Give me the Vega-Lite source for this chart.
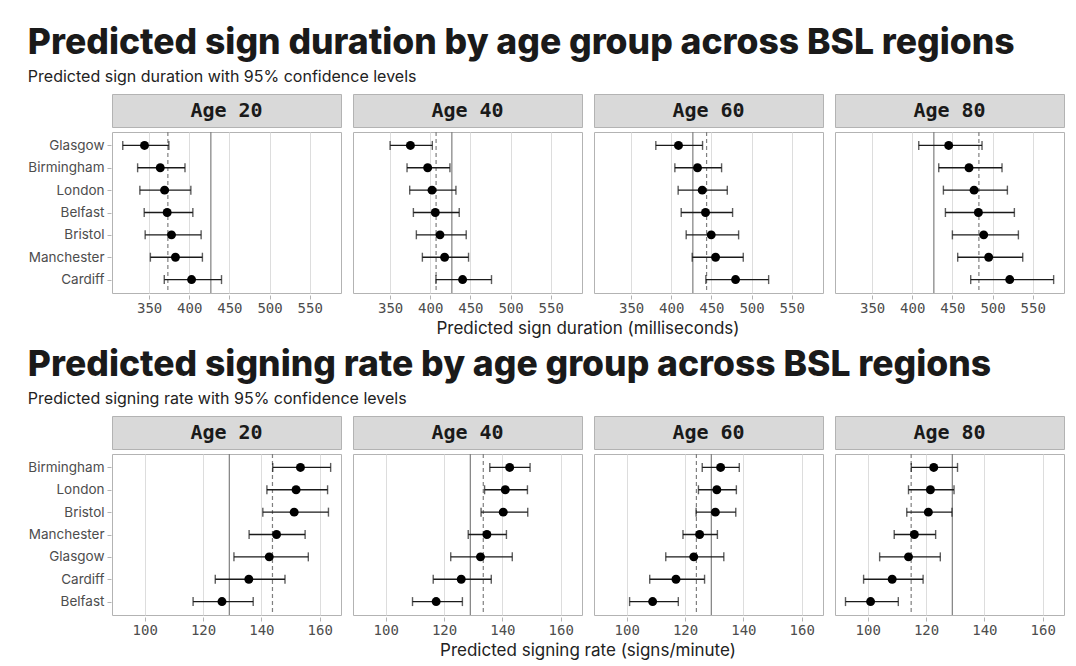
{
  "$schema": "https://vega.github.io/schema/vega-lite/v6.json",
  "background": "white",
  "padding": {"left": 27, "top": 25, "right": 5, "bottom": 5},
  "datasets": {
    "pred": [
      {"measure": "duration", "age": "Age 20", "region": "Glasgow", "est": 344.3, "lo": 317.2, "hi": 374.6},
      {"measure": "duration", "age": "Age 20", "region": "Birmingham", "est": 363.9, "lo": 335.7, "hi": 394.7},
      {"measure": "duration", "age": "Age 20", "region": "London", "est": 369.3, "lo": 338.5, "hi": 402.0},
      {"measure": "duration", "age": "Age 20", "region": "Belfast", "est": 372.5, "lo": 343.9, "hi": 404.5},
      {"measure": "duration", "age": "Age 20", "region": "Bristol", "est": 377.9, "lo": 345.1, "hi": 414.8},
      {"measure": "duration", "age": "Age 20", "region": "Manchester", "est": 382.8, "lo": 351.6, "hi": 416.4},
      {"measure": "duration", "age": "Age 20", "region": "Cardiff", "est": 402.9, "lo": 368.9, "hi": 440.2},
      {"measure": "duration", "age": "Age 40", "region": "Glasgow", "est": 375.3, "lo": 350.0, "hi": 402.6},
      {"measure": "duration", "age": "Age 40", "region": "Birmingham", "est": 396.8, "lo": 371.1, "hi": 424.5},
      {"measure": "duration", "age": "Age 40", "region": "London", "est": 402.2, "lo": 374.4, "hi": 432.0},
      {"measure": "duration", "age": "Age 40", "region": "Belfast", "est": 406.3, "lo": 379.0, "hi": 436.1},
      {"measure": "duration", "age": "Age 40", "region": "Bristol", "est": 412.1, "lo": 382.7, "hi": 444.8},
      {"measure": "duration", "age": "Age 40", "region": "Manchester", "est": 417.9, "lo": 390.2, "hi": 447.7},
      {"measure": "duration", "age": "Age 40", "region": "Cardiff", "est": 440.3, "lo": 407.1, "hi": 476.3},
      {"measure": "duration", "age": "Age 60", "region": "Glasgow", "est": 409.0, "lo": 380.8, "hi": 439.0},
      {"measure": "duration", "age": "Age 60", "region": "Birmingham", "est": 432.7, "lo": 404.5, "hi": 462.7},
      {"measure": "duration", "age": "Age 60", "region": "London", "est": 438.6, "lo": 408.6, "hi": 469.8},
      {"measure": "duration", "age": "Age 60", "region": "Belfast", "est": 442.7, "lo": 412.4, "hi": 476.4},
      {"measure": "duration", "age": "Age 60", "region": "Bristol", "est": 449.8, "lo": 418.6, "hi": 483.9},
      {"measure": "duration", "age": "Age 60", "region": "Manchester", "est": 455.2, "lo": 426.1, "hi": 489.7},
      {"measure": "duration", "age": "Age 60", "region": "Cardiff", "est": 480.1, "lo": 443.1, "hi": 521.3},
      {"measure": "duration", "age": "Age 80", "region": "Glasgow", "est": 445.4, "lo": 408.1, "hi": 486.9},
      {"measure": "duration", "age": "Age 80", "region": "Birmingham", "est": 470.7, "lo": 433.0, "hi": 511.8},
      {"measure": "duration", "age": "Age 80", "region": "London", "est": 477.0, "lo": 438.8, "hi": 518.5},
      {"measure": "duration", "age": "Age 80", "region": "Belfast", "est": 482.4, "lo": 441.3, "hi": 527.2},
      {"measure": "duration", "age": "Age 80", "region": "Bristol", "est": 489.0, "lo": 450.0, "hi": 532.2},
      {"measure": "duration", "age": "Age 80", "region": "Manchester", "est": 495.2, "lo": 456.6, "hi": 537.6},
      {"measure": "duration", "age": "Age 80", "region": "Cardiff", "est": 521.4, "lo": 472.8, "hi": 576.1},
      {"measure": "rate", "age": "Age 20", "region": "Birmingham", "est": 153.4, "lo": 143.9, "hi": 163.75},
      {"measure": "rate", "age": "Age 20", "region": "London", "est": 151.9, "lo": 141.9, "hi": 162.7},
      {"measure": "rate", "age": "Age 20", "region": "Bristol", "est": 151.25, "lo": 140.5, "hi": 163.0},
      {"measure": "rate", "age": "Age 20", "region": "Manchester", "est": 145.2, "lo": 135.8, "hi": 155.0},
      {"measure": "rate", "age": "Age 20", "region": "Glasgow", "est": 142.7, "lo": 130.6, "hi": 156.1},
      {"measure": "rate", "age": "Age 20", "region": "Cardiff", "est": 135.7, "lo": 124.2, "hi": 148.1},
      {"measure": "rate", "age": "Age 20", "region": "Belfast", "est": 126.5, "lo": 116.6, "hi": 137.2},
      {"measure": "rate", "age": "Age 40", "region": "Birmingham", "est": 142.5, "lo": 135.7, "hi": 149.5},
      {"measure": "rate", "age": "Age 40", "region": "London", "est": 141.0, "lo": 133.9, "hi": 148.6},
      {"measure": "rate", "age": "Age 40", "region": "Bristol", "est": 140.3, "lo": 132.7, "hi": 148.7},
      {"measure": "rate", "age": "Age 40", "region": "Manchester", "est": 134.7, "lo": 128.3, "hi": 141.4},
      {"measure": "rate", "age": "Age 40", "region": "Glasgow", "est": 132.5, "lo": 122.3, "hi": 143.4},
      {"measure": "rate", "age": "Age 40", "region": "Cardiff", "est": 125.9, "lo": 116.3, "hi": 136.2},
      {"measure": "rate", "age": "Age 40", "region": "Belfast", "est": 117.3, "lo": 109.2, "hi": 126.3},
      {"measure": "rate", "age": "Age 60", "region": "Birmingham", "est": 132.2, "lo": 125.9, "hi": 138.6},
      {"measure": "rate", "age": "Age 60", "region": "London", "est": 130.9, "lo": 124.6, "hi": 137.6},
      {"measure": "rate", "age": "Age 60", "region": "Bristol", "est": 130.4, "lo": 123.8, "hi": 137.4},
      {"measure": "rate", "age": "Age 60", "region": "Manchester", "est": 125.0, "lo": 119.3, "hi": 131.1},
      {"measure": "rate", "age": "Age 60", "region": "Glasgow", "est": 123.0, "lo": 113.4, "hi": 133.3},
      {"measure": "rate", "age": "Age 60", "region": "Cardiff", "est": 116.9, "lo": 107.9, "hi": 126.7},
      {"measure": "rate", "age": "Age 60", "region": "Belfast", "est": 108.9, "lo": 101.0, "hi": 117.7},
      {"measure": "rate", "age": "Age 80", "region": "Birmingham", "est": 122.65, "lo": 114.95, "hi": 130.8},
      {"measure": "rate", "age": "Age 80", "region": "London", "est": 121.5, "lo": 114.0, "hi": 129.6},
      {"measure": "rate", "age": "Age 80", "region": "Bristol", "est": 120.8, "lo": 113.4, "hi": 128.9},
      {"measure": "rate", "age": "Age 80", "region": "Manchester", "est": 116.0, "lo": 109.1, "hi": 123.3},
      {"measure": "rate", "age": "Age 80", "region": "Glasgow", "est": 114.0, "lo": 104.1, "hi": 124.9},
      {"measure": "rate", "age": "Age 80", "region": "Cardiff", "est": 108.4, "lo": 98.6, "hi": 119.0},
      {"measure": "rate", "age": "Age 80", "region": "Belfast", "est": 101.0, "lo": 92.4, "hi": 110.5}
    ]
  },
  "vconcat": [
    {
      "title": {"text": "Predicted sign duration by age group across BSL regions", "subtitle": "Predicted sign duration with 95% confidence levels"},
      "spacing": 0,
      "resolve": {"scale": {"y": "independent", "x": "independent"}, "axis": {"y": "independent", "x": "independent"}},
      "vconcat": [
        {
          "data": {"name": "pred"},
          "transform": [{"filter": "datum.measure === 'duration'"}],
          "facet": {"column": {"field": "age", "type": "nominal", "header": null}},
          "spacing": 10,
          "spec": {
            "width": 229, "height": 33,
            "view": {"fill": "#D9D9D9", "stroke": "#B3B3B3"},
            "layer": [
              {"mark": {"type": "point", "opacity": 0},
               "encoding": {"y": {"field": "region", "type": "nominal", "sort": ["Glasgow", "Birmingham", "London", "Belfast", "Bristol", "Manchester", "Cardiff"], "scale": {"type": "point", "padding": 6},
                 "axis": {"title": null, "domain": false, "grid": false, "ticks": true, "tickOpacity": 0, "labelOpacity": 0, "labelOverlap": false}}}},
              {"transform": [{"aggregate": [{"op": "count", "as": "n"}], "groupby": ["age"]}],
               "mark": {"type": "text", "font": "DejaVu Sans Mono", "fontWeight": "bold", "fontSize": 20, "color": "#1A1A1A"},
               "encoding": {"text": {"field": "age", "type": "nominal"}}}
            ]
          }
        },
        {
          "data": {"name": "pred"},
          "transform": [{"filter": "datum.measure === 'duration'"}, {"joinaggregate": [{"op": "mean", "field": "est", "as": "grand"}]}],
          "facet": {"column": {"field": "age", "type": "nominal", "header": {"labelOrient": "bottom", "labelExpr": "''", "labelFontSize": 1, "labelPadding": 0, "title": "Predicted sign duration (milliseconds)", "titleOrient": "bottom"}}},
          "spacing": 10,
          "spec": {
            "width": 229, "height": 161,
            "layer": [
              {"mark": {"type": "rule", "color": "#7F7F7F", "strokeWidth": 1.2},
               "encoding": {"x": {"aggregate": "mean", "field": "grand", "type": "quantitative", "title": null}}},
              {"mark": {"type": "rule", "color": "#7F7F7F", "strokeWidth": 1.2, "strokeDash": [4, 3]},
               "encoding": {"x": {"aggregate": "mean", "field": "est", "type": "quantitative", "title": null}}},
              {"mark": {"type": "rule", "color": "#1A1A1A", "strokeWidth": 1.4},
               "encoding": {"x": {"field": "lo", "type": "quantitative", "title": null}, "x2": {"field": "hi"},
                 "y": {"field": "region", "type": "nominal", "title": null, "sort": ["Glasgow", "Birmingham", "London", "Belfast", "Bristol", "Manchester", "Cardiff"], "scale": {"type": "point", "padding": 0.6}}}},
              {"mark": {"type": "tick", "color": "#1A1A1A", "thickness": 1.4, "size": 9},
               "encoding": {"x": {"field": "lo", "type": "quantitative", "title": null}, "y": {"field": "region", "type": "nominal", "title": null, "sort": ["Glasgow", "Birmingham", "London", "Belfast", "Bristol", "Manchester", "Cardiff"]}}},
              {"mark": {"type": "tick", "color": "#1A1A1A", "thickness": 1.4, "size": 9},
               "encoding": {"x": {"field": "hi", "type": "quantitative", "title": null}, "y": {"field": "region", "type": "nominal", "title": null, "sort": ["Glasgow", "Birmingham", "London", "Belfast", "Bristol", "Manchester", "Cardiff"]}}},
              {"mark": {"type": "point", "filled": true, "color": "black", "opacity": 1, "size": 80},
               "encoding": {"x": {"field": "est", "type": "quantitative", "title": null,
                 "scale": {"domain": [303.8, 589], "nice": false, "zero": false},
                 "axis": {"values": [350, 400, 450, 500, 550]}},
                 "y": {"field": "region", "type": "nominal", "title": null, "sort": ["Glasgow", "Birmingham", "London", "Belfast", "Bristol", "Manchester", "Cardiff"]}}}
            ]
          }
        }
      ]
    },
    {
      "title": {"text": "Predicted signing rate by age group across BSL regions", "subtitle": "Predicted signing rate with 95% confidence levels"},
      "spacing": 0,
      "resolve": {"scale": {"y": "independent", "x": "independent"}, "axis": {"y": "independent", "x": "independent"}},
      "vconcat": [
        {
          "data": {"name": "pred"},
          "transform": [{"filter": "datum.measure === 'rate'"}],
          "facet": {"column": {"field": "age", "type": "nominal", "header": null}},
          "spacing": 10,
          "spec": {
            "width": 229, "height": 33,
            "view": {"fill": "#D9D9D9", "stroke": "#B3B3B3"},
            "layer": [
              {"mark": {"type": "point", "opacity": 0},
               "encoding": {"y": {"field": "region", "type": "nominal", "sort": ["Birmingham", "London", "Bristol", "Manchester", "Glasgow", "Cardiff", "Belfast"], "scale": {"type": "point", "padding": 6},
                 "axis": {"title": null, "domain": false, "grid": false, "ticks": true, "tickOpacity": 0, "labelOpacity": 0, "labelOverlap": false}}}},
              {"transform": [{"aggregate": [{"op": "count", "as": "n"}], "groupby": ["age"]}],
               "mark": {"type": "text", "font": "DejaVu Sans Mono", "fontWeight": "bold", "fontSize": 20, "color": "#1A1A1A"},
               "encoding": {"text": {"field": "age", "type": "nominal"}}}
            ]
          }
        },
        {
          "data": {"name": "pred"},
          "transform": [{"filter": "datum.measure === 'rate'"}, {"joinaggregate": [{"op": "mean", "field": "est", "as": "grand"}]}],
          "facet": {"column": {"field": "age", "type": "nominal", "header": {"labelOrient": "bottom", "labelExpr": "''", "labelFontSize": 1, "labelPadding": 0, "title": "Predicted signing rate (signs/minute)", "titleOrient": "bottom"}}},
          "spacing": 10,
          "spec": {
            "width": 229, "height": 161,
            "layer": [
              {"mark": {"type": "rule", "color": "#7F7F7F", "strokeWidth": 1.2},
               "encoding": {"x": {"aggregate": "mean", "field": "grand", "type": "quantitative", "title": null}}},
              {"mark": {"type": "rule", "color": "#7F7F7F", "strokeWidth": 1.2, "strokeDash": [4, 3]},
               "encoding": {"x": {"aggregate": "mean", "field": "est", "type": "quantitative", "title": null}}},
              {"mark": {"type": "rule", "color": "#1A1A1A", "strokeWidth": 1.4},
               "encoding": {"x": {"field": "lo", "type": "quantitative", "title": null}, "x2": {"field": "hi"},
                 "y": {"field": "region", "type": "nominal", "title": null, "sort": ["Birmingham", "London", "Bristol", "Manchester", "Glasgow", "Cardiff", "Belfast"], "scale": {"type": "point", "padding": 0.6}}}},
              {"mark": {"type": "tick", "color": "#1A1A1A", "thickness": 1.4, "size": 9},
               "encoding": {"x": {"field": "lo", "type": "quantitative", "title": null}, "y": {"field": "region", "type": "nominal", "title": null, "sort": ["Birmingham", "London", "Bristol", "Manchester", "Glasgow", "Cardiff", "Belfast"]}}},
              {"mark": {"type": "tick", "color": "#1A1A1A", "thickness": 1.4, "size": 9},
               "encoding": {"x": {"field": "hi", "type": "quantitative", "title": null}, "y": {"field": "region", "type": "nominal", "title": null, "sort": ["Birmingham", "London", "Bristol", "Manchester", "Glasgow", "Cardiff", "Belfast"]}}},
              {"mark": {"type": "point", "filled": true, "color": "black", "opacity": 1, "size": 80},
               "encoding": {"x": {"field": "est", "type": "quantitative", "title": null,
                 "scale": {"domain": [88.8, 167.3], "nice": false, "zero": false},
                 "axis": {"values": [100, 120, 140, 160]}},
                 "y": {"field": "region", "type": "nominal", "title": null, "sort": ["Birmingham", "London", "Bristol", "Manchester", "Glasgow", "Cardiff", "Belfast"]}}}
            ]
          }
        }
      ]
    }
  ],
  "spacing": 10,
  "config": {
    "font": "Inter",
    "view": {"stroke": "#B3B3B3", "strokeWidth": 1, "fill": "white"},
    "title": {"font": "Inter", "fontSize": 35.5, "fontWeight": 800, "color": "#1A1A1A", "anchor": "start", "subtitleFont": "Inter", "subtitleFontSize": 16, "subtitleColor": "#222222", "subtitlePadding": 8, "offset": 6},
    "header": {"titleFont": "Inter", "titleFontSize": 17, "titleFontWeight": "normal", "titleColor": "#222222", "titlePadding": -5},
    "axisX": {"domain": false, "ticks": true, "tickSize": 4, "tickColor": "#B3B3B3", "labelFont": "DejaVu Sans Mono", "labelFontSize": 14, "labelColor": "#4D4D4D", "labelPadding": 2, "gridColor": "#DDDDDD", "gridWidth": 1},
    "axisY": {"domain": false, "tickSize": 4, "tickColor": "#B3B3B3", "labelFont": "Inter", "labelFontSize": 13.5, "labelColor": "#4D4D4D", "labelPadding": 3, "gridColor": "#DDDDDD", "gridWidth": 1, "labelOverlap": false}
  }
}
